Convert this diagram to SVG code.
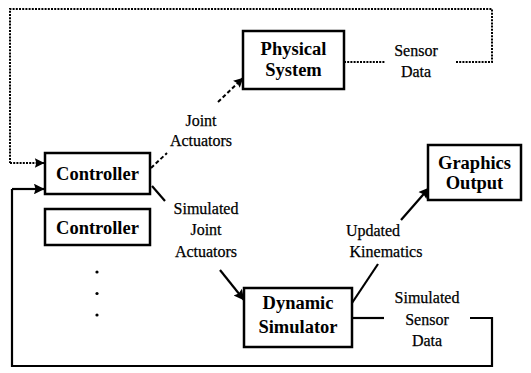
<svg xmlns="http://www.w3.org/2000/svg" width="531" height="373" viewBox="0 0 531 373">
  <style>
    .box { fill: #fff; stroke: #000; stroke-width: 2.5; }
    .name { font-family: "Liberation Serif", "Times New Roman", serif; font-weight: bold; font-size: 18.5px; fill: #000; text-anchor: middle; }
    .lbl { font-family: "Liberation Serif", "Times New Roman", serif; font-size: 16px; fill: #000; stroke: #000; stroke-width: 0.25; text-anchor: middle; }
    .solid { fill: none; stroke: #000; stroke-width: 2.2; }
    .dotted { fill: none; stroke: #000; stroke-width: 2; stroke-dasharray: 2 1.2; }
    .dashed { fill: none; stroke: #000; stroke-width: 2; stroke-dasharray: 4 2.5; }
  </style>
  <defs>
    <marker id="arrow" viewBox="0 0 10 10" refX="9.5" refY="5" markerWidth="8" markerHeight="4.8" markerUnits="strokeWidth" orient="auto">
      <path d="M0 0 L10 5 L0 10 L1.5 5 Z" fill="#000"/>
    </marker>
  </defs>

  <rect width="531" height="373" fill="#fff"/>

  <g id="connectors">
    <!-- real-robot loop: sensor data back to the controller (dotted) -->
    <path class="dotted" d="M344 62 H385"/>
    <path class="dotted" d="M456 62 H492 V9 H10 V163" />
    <path class="dotted" d="M10 163 H44" marker-end="url(#arrow)"/>
    <!-- joint actuators to the physical system (dashed) -->
    <path class="dashed" d="M151 168 L167 153"/>
    <path class="dashed" d="M218 102 L243 78" marker-end="url(#arrow)"/>
    <!-- simulated loop (solid) -->
    <path class="solid" d="M152 186 L165 201"/>
    <path class="solid" d="M220 270 L244 300" marker-end="url(#arrow)"/>
    <path class="solid" d="M352 303 L378 264"/>
    <path class="solid" d="M401 220 L429 188" marker-end="url(#arrow)"/>
    <path class="solid" d="M353 318 H384"/>
    <path class="solid" d="M470 318 H492 V366 H12 V189"/>
    <path class="solid" d="M12 189 H44" marker-end="url(#arrow)"/>
    <!-- connector labels -->
    <text class="lbl" x="201" y="126">Joint</text>
    <text class="lbl" x="201" y="146">Actuators</text>
    <text class="lbl" x="416" y="56">Sensor</text>
    <text class="lbl" x="416" y="77">Data</text>
    <text class="lbl" x="206" y="214">Simulated</text>
    <text class="lbl" x="206" y="235">Joint</text>
    <text class="lbl" x="206" y="257">Actuators</text>
    <text class="lbl" x="373" y="236">Updated</text>
    <text class="lbl" x="386" y="257">Kinematics</text>
    <text class="lbl" x="427" y="303">Simulated</text>
    <text class="lbl" x="427" y="325">Sensor</text>
    <text class="lbl" x="427" y="346">Data</text>
  </g>

  <g id="physical-system">
    <rect class="box" x="243" y="31" width="101" height="58"/>
    <text class="name" x="293.5" y="55">Physical</text>
    <text class="name" x="293.5" y="76">System</text>
  </g>

  <g id="controller">
    <rect class="box" x="45" y="153" width="105" height="41"/>
    <text class="name" x="97.5" y="180">Controller</text>
  </g>

  <g id="controller-2">
    <rect class="box" x="45" y="209" width="105" height="36"/>
    <text class="name" x="97.5" y="234">Controller</text>
  </g>

  <g id="more-controllers">
    <circle cx="97" cy="272" r="1.6" fill="#000"/>
    <circle cx="97" cy="293.5" r="1.6" fill="#000"/>
    <circle cx="97" cy="315" r="1.6" fill="#000"/>
  </g>

  <g id="graphics-output">
    <rect class="box" x="428" y="145" width="93" height="55"/>
    <text class="name" x="474.5" y="169">Graphics</text>
    <text class="name" x="474.5" y="189">Output</text>
  </g>

  <g id="dynamic-simulator">
    <rect class="box" x="244" y="288" width="108" height="59"/>
    <text class="name" x="298" y="309">Dynamic</text>
    <text class="name" x="298" y="333">Simulator</text>
  </g>
</svg>
